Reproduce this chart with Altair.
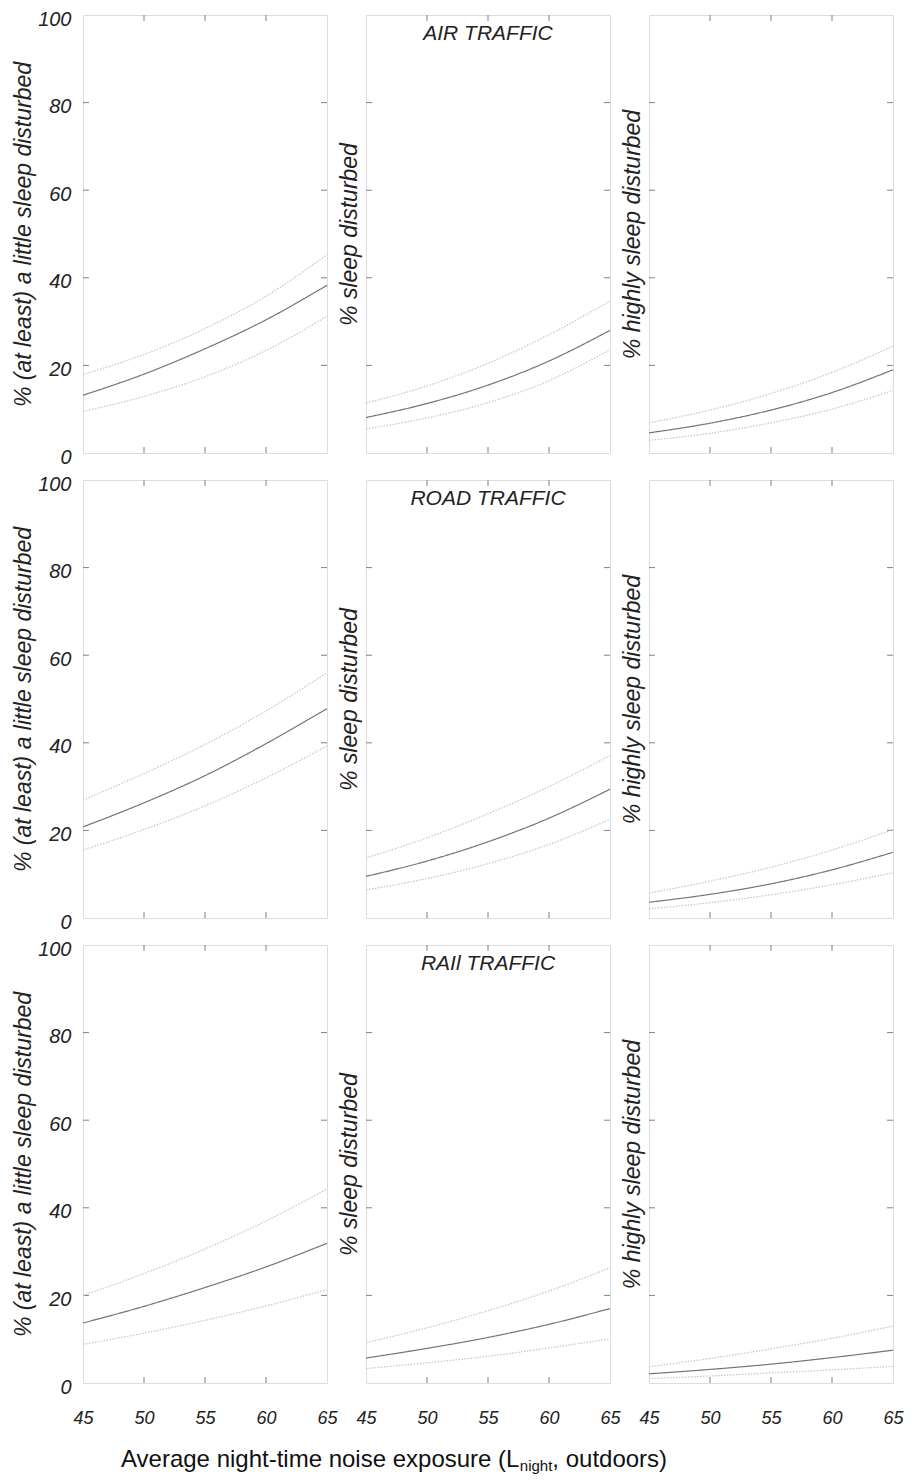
import altair as alt
import pandas as pd

# ---------------- data ----------------
L_night = [45, 50, 55, 60, 65]

air_lsd_mean = [13.2, 18.0, 23.8, 30.4, 38.3]
air_lsd_upper = [17.9, 22.5, 28.4, 35.8, 45.3]
air_lsd_lower = [9.5, 12.9, 17.4, 23.4, 31.2]
air_sd_mean = [8.1, 11.3, 15.5, 21.0, 28.0]
air_sd_upper = [11.4, 15.3, 20.5, 27.0, 34.7]
air_sd_lower = [5.5, 8.0, 11.5, 16.5, 23.6]
air_hsd_mean = [4.6, 6.8, 9.8, 13.8, 19.0]
air_hsd_upper = [6.9, 9.8, 13.6, 18.4, 24.4]
air_hsd_lower = [2.9, 4.5, 6.9, 10.0, 14.3]

road_lsd_mean = [20.8, 26.3, 32.5, 39.8, 47.8]
road_lsd_upper = [26.9, 33.0, 39.6, 47.3, 56.0]
road_lsd_lower = [15.5, 20.2, 25.6, 32.0, 39.3]
road_sd_mean = [9.5, 13.0, 17.4, 22.8, 29.4]
road_sd_upper = [13.7, 18.3, 23.8, 30.0, 37.1]
road_sd_lower = [6.4, 9.0, 12.4, 16.8, 22.5]
road_hsd_mean = [3.6, 5.4, 7.8, 11.0, 15.0]
road_hsd_upper = [5.7, 8.4, 11.6, 15.5, 20.2]
road_hsd_lower = [2.1, 3.5, 5.3, 7.6, 10.3]

rail_lsd_mean = [13.7, 17.5, 21.8, 26.5, 31.9]
rail_lsd_upper = [20.0, 25.0, 30.6, 37.0, 44.3]
rail_lsd_lower = [8.8, 11.4, 14.3, 17.6, 21.3]
rail_sd_mean = [5.7, 7.9, 10.4, 13.4, 17.0]
rail_sd_upper = [9.2, 12.6, 16.5, 21.0, 26.3]
rail_sd_lower = [3.3, 4.6, 6.1, 8.0, 10.1]
rail_hsd_mean = [2.1, 3.1, 4.3, 5.8, 7.5]
rail_hsd_upper = [3.7, 5.6, 7.8, 10.2, 13.0]
rail_hsd_lower = [1.0, 1.6, 2.3, 3.0, 3.8]

sources = ["air", "road", "rail"]
source_titles = ["AIR TRAFFIC", "ROAD TRAFFIC", "RAIl TRAFFIC"]
measures = ["lsd", "sd", "hsd"]
measure_titles = ["% (at least) a little sleep disturbed", "% sleep disturbed",
                  "% highly sleep disturbed"]
x_ticks = [50, 55, 60]
y_ticks = [20, 40, 60, 80]
y_labels = [0, 20, 40, 60, 80, 100]
x_title_main = "Average night-time noise exposure (L"
x_title_sub = "night"
x_title_end = ", outdoors)"

series_data = {
    ("air", "lsd"): (air_lsd_mean, air_lsd_upper, air_lsd_lower),
    ("air", "sd"): (air_sd_mean, air_sd_upper, air_sd_lower),
    ("air", "hsd"): (air_hsd_mean, air_hsd_upper, air_hsd_lower),
    ("road", "lsd"): (road_lsd_mean, road_lsd_upper, road_lsd_lower),
    ("road", "sd"): (road_sd_mean, road_sd_upper, road_sd_lower),
    ("road", "hsd"): (road_hsd_mean, road_hsd_upper, road_hsd_lower),
    ("rail", "lsd"): (rail_lsd_mean, rail_lsd_upper, rail_lsd_lower),
    ("rail", "sd"): (rail_sd_mean, rail_sd_upper, rail_sd_lower),
    ("rail", "hsd"): (rail_hsd_mean, rail_hsd_upper, rail_hsd_lower),
}

rows = []
for (src, meas), (m, u, lo) in series_data.items():
    for name, vals in (("mean", m), ("upper", u), ("lower", lo)):
        for x, v in zip(L_night, vals):
            rows.append({"source": src, "measure": meas, "series": name, "L": x, "value": v})
df = pd.DataFrame(rows)

# ---------------- layout / style ----------------
W, H = 244, 438
TICK = 6
FONT = "Liberation Sans"
FRAME = "#808080"

xs = alt.Scale(domain=[45, 65], nice=False, zero=False)
ys = alt.Scale(domain=[0, 100], nice=False)

series_dom = ["mean", "upper", "lower"]
color_scale = alt.Scale(domain=series_dom, range=["#747474", "#c4c4c4", "#c4c4c4"])
dash_scale = alt.Scale(domain=series_dom, range=[[1, 0], [1.5, 1.5], [1.5, 1.5]])


def panel(r, c):
    src, meas = sources[r], measures[c]
    d = df[(df.source == src) & (df.measure == meas)]
    xaxis = alt.Axis(values=L_night, title=None, labels=(r == 2), ticks=False,
                     domain=False, grid=False, labelFontSize=18, labelFont=FONT,
                     labelFontStyle="italic", labelColor="#222222", labelPadding=26,
                     labelFlush=False)
    yaxis = alt.Axis(values=y_labels, title=measure_titles[c], labels=(c == 0),
                     ticks=False, domain=False, grid=False, labelFontSize=20,
                     labelFont=FONT, labelFontStyle="italic", labelColor="#222222",
                     labelPadding=12, labelFlush=False, labelBaseline="middle",
                     labelOffset=4,
                     titleFont=FONT, titleFontSize=23, titleFontStyle="italic",
                     titleFontWeight="normal", titleColor="#222222",
                     titlePadding=(2 if c == 0 else 5))

    def X(f):
        return alt.X(f, scale=xs, axis=xaxis)

    def Y(f):
        return alt.Y(f, scale=ys, axis=yaxis)

    lines = alt.Chart(d).mark_line(interpolate="monotone", strokeWidth=1.2).encode(
        x=X("L:Q"), y=Y("value:Q"), detail="series:N",
        color=alt.Color("series:N", scale=color_scale, legend=None),
        strokeDash=alt.StrokeDash("series:N", scale=dash_scale, legend=None),
    )
    xt = pd.DataFrame({"t": x_ticks})
    yt = pd.DataFrame({"t": y_ticks})
    tick_top = alt.Chart(xt).mark_rule(color=FRAME, strokeWidth=1).encode(
        x=X("t:Q"), y=alt.value(0), y2=alt.value(TICK))
    tick_bot = alt.Chart(xt).mark_rule(color=FRAME, strokeWidth=1).encode(
        x=X("t:Q"), y=alt.value(H - TICK), y2=alt.value(H))
    tick_left = alt.Chart(yt).mark_rule(color=FRAME, strokeWidth=1).encode(
        y=Y("t:Q"), x=alt.value(0), x2=alt.value(TICK))
    tick_right = alt.Chart(yt).mark_rule(color=FRAME, strokeWidth=1).encode(
        y=Y("t:Q"), x=alt.value(W - TICK), x2=alt.value(W))
    layers = [tick_top, tick_bot, tick_left, tick_right, lines]

    if c == 1:
        ttl = alt.Chart(pd.DataFrame({"t": [source_titles[r]]})).mark_text(
            font=FONT, fontSize=21, fontStyle="italic", color="#222222",
            align="center", baseline="middle").encode(
            text="t:N", x=alt.value(W / 2), y=alt.value(19))
        layers.append(ttl)

    if r == 2 and c == 0:
        fs, fsub = 24, 15
        w1 = 16.618 * fs
        w2 = 2.168 * fsub
        x0, yb = 38, H + 84
        for txt, xx, yy, size in ((x_title_main, x0, yb, fs),
                                  (x_title_sub, x0 + w1, yb + 4, fsub),
                                  (x_title_end, x0 + w1 + w2, yb, fs)):
            layers.append(alt.Chart(pd.DataFrame({"t": [txt]})).mark_text(
                font=FONT, fontSize=size, color="#111111", align="left",
                baseline="alphabetic").encode(
                text="t:N", x=alt.value(xx), y=alt.value(yy)))

    return alt.layer(*layers).properties(width=W, height=H)


panels = [panel(r, c) for r in range(3) for c in range(3)]

chart = alt.concat(*panels, columns=3, spacing={"row": 27, "column": 39},
                   bounds="flush").properties(
    padding={"left": 4, "top": 0, "right": 0, "bottom": 0}).configure_view(
    stroke=FRAME, strokeWidth=1.5).configure(background="white")

chart.save("out.html", embed_options={"renderer": "svg", "actions": False})
